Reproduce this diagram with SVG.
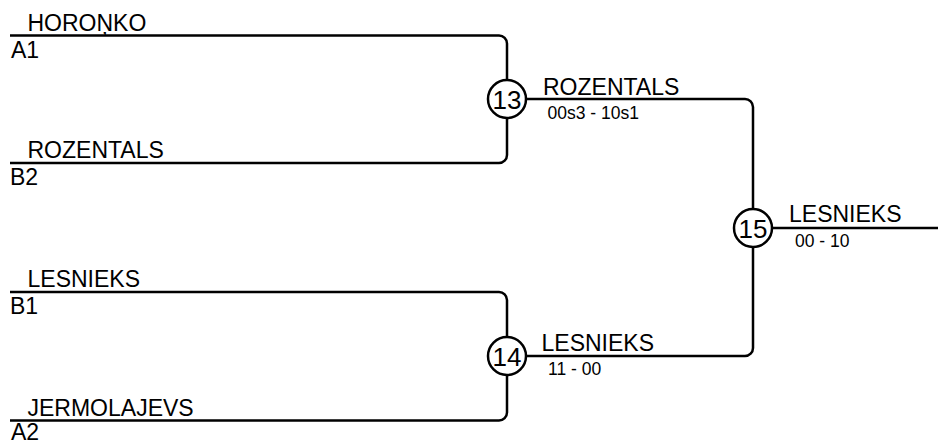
<svg xmlns="http://www.w3.org/2000/svg" width="938" height="445" viewBox="0 0 938 445">
<style>
text{font-family:"Liberation Sans",Arial,sans-serif;fill:#000}
.name{font-size:23px}
.seed{font-size:23px}
.score{font-size:17.5px}
.num{font-size:26px;text-anchor:middle}
.ln{fill:none;stroke:#000;stroke-width:2.5;stroke-linecap:butt}
.c{fill:#fff;stroke:#000;stroke-width:2.5}
</style>
<rect width="938" height="445" fill="#fff"/>
<g id="connectors">
<path class="ln" d="M10,35.5 H499 A8,8 0 0 1 507,43.5 V155 A8,8 0 0 1 499,163 H10"/>
<path class="ln" d="M10,292 H499 A8,8 0 0 1 507,300 V412.5 A8,8 0 0 1 499,420.5 H10"/>
<path class="ln" d="M507,99 H745 A8,8 0 0 1 753,107 V348 A8,8 0 0 1 745,356 H507"/>
<path class="ln" d="M753,228 H938"/>
</g>
<g id="p-horonko"><text class="name" x="27.5" y="31">HOROŅKO</text><text class="seed" x="11" y="58">A1</text></g>
<g id="p-rozentals"><text class="name" x="27.5" y="158">ROZENTALS</text><text class="seed" x="10" y="185">B2</text></g>
<g id="p-lesnieks"><text class="name" x="27.5" y="287">LESNIEKS</text><text class="seed" x="10" y="314">B1</text></g>
<g id="p-jermolajevs"><text class="name" x="27.5" y="416">JERMOLAJEVS</text><text class="seed" x="11" y="439.5">A2</text></g>
<g id="m13"><circle class="c" cx="507" cy="99" r="19"/><text class="num" x="507" y="108.5">13</text><text class="name" x="543" y="94.5">ROZENTALS</text><text class="score" x="547.5" y="119">00s3 - 10s1</text></g>
<g id="m14"><circle class="c" cx="507" cy="356" r="19"/><text class="num" x="507" y="365.5">14</text><text class="name" x="541.5" y="351">LESNIEKS</text><text class="score" x="548" y="375">11 - 00</text></g>
<g id="m15"><circle class="c" cx="753" cy="228" r="19"/><text class="num" x="753" y="237.5">15</text><text class="name" x="789" y="222">LESNIEKS</text><text class="score" x="795" y="247">00 - 10</text></g>
</svg>
